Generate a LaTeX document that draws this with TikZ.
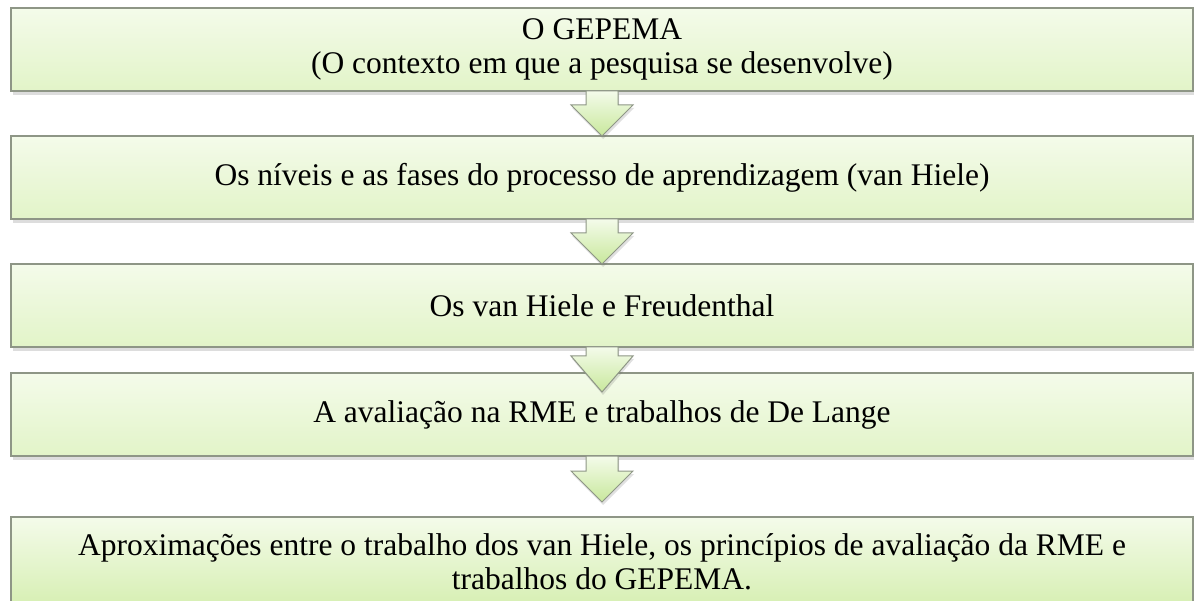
\documentclass[tikz,border=0pt]{standalone}
\usepackage{fontspec}
\setmainfont{Liberation Serif}
\usetikzlibrary{positioning,calc,shadows}
\definecolor{verdetopo}{HTML}{F4FBEA}
\definecolor{verdebase}{HTML}{E2F4C8}
\definecolor{verdeforte}{HTML}{D6EFB2}
\definecolor{bordacinza}{HTML}{8E9686}
\definecolor{setabase}{HTML}{C8E89C}
\tikzstyle{etapa} = [draw=bordacinza, line width=1.3pt, top color=verdetopo,
    bottom color=verdebase, rectangle, minimum width=1182pt, minimum height=83pt,
    inner sep=0pt, outer sep=0pt, align=center,
    font=\fontsize{31.5}{34.5}\selectfont,
    drop shadow={shadow xshift=1.5pt, shadow yshift=-4pt, opacity=.22, fill=black!60}]
\tikzstyle{setabloco} = [draw=bordacinza, line width=1pt, top color=verdetopo,
    bottom color=setabase, line join=miter,
    drop shadow={shadow xshift=1pt, shadow yshift=-3pt, opacity=.2, fill=black!60}]
% seta em bloco: no de origem, comprimento da haste, ponta
\newcommand{\seta}[3]{%
    \draw[setabloco] ($(#1.south)+(-16,0)$) -- ($(#1.south)+(-16,#2)$)
        -- ($(#1.south)+(-31,#2)$) -- (#3) -- ($(#1.south)+(31,#2)$)
        -- ($(#1.south)+(16,#2)$) -- ($(#1.south)+(16,0)$) -- cycle;}

\begin{document}
\begin{tikzpicture}[x=1pt, y=-1pt]
    \useasboundingbox (0,0) rectangle (1194,601);
    \node [etapa] (box1) at (602,49.5) {O GEPEMA\\(O contexto em que a pesquisa se desenvolve)};
    \node [etapa, below=45pt of box1] (box2) {Os níveis e as fases do processo de aprendizagem (van Hiele)};
    \node [etapa, below=45pt of box2] (box3) {Os van Hiele e Freudenthal};
    \node [etapa, below=26pt of box3] (box4) {A avaliação na RME e trabalhos de De Lange};
    \node [etapa, below=61pt of box4, minimum height=90pt, bottom color=verdeforte] (box5)
        {Aproximações entre o trabalho dos van Hiele, os princípios de avaliação da RME e\\trabalhos do GEPEMA.};
    \coordinate (ponta3) at ($(box4.north)+(0,19)$);
    \coordinate (ponta4) at ($(box5.north)+(0,-15)$);
    \seta{box1}{14}{box2.north}
    \seta{box2}{14}{box3.north}
    \seta{box3}{9}{ponta3}
    \seta{box4}{15}{ponta4}
\end{tikzpicture}
\end{document}
